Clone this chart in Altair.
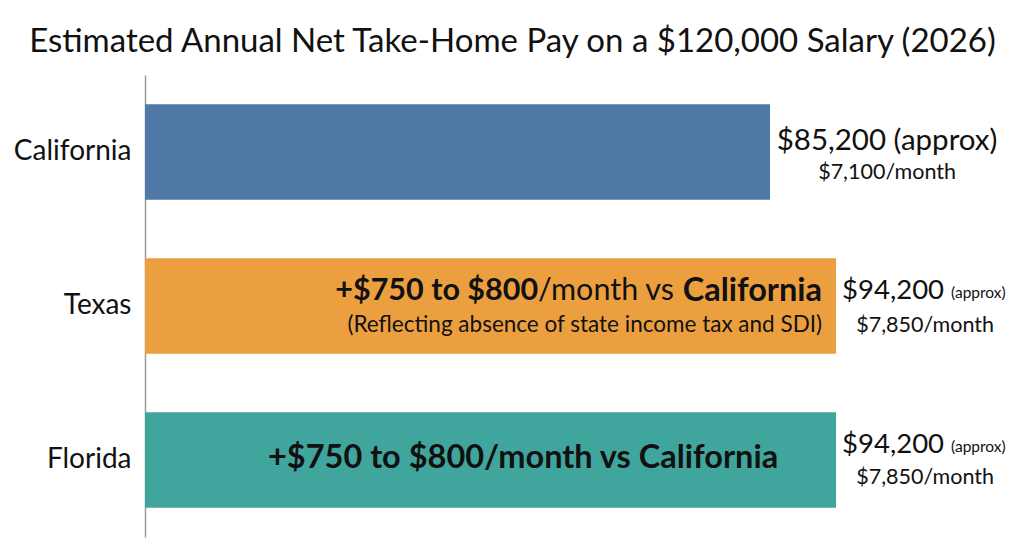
import altair as alt
import pandas as pd

states = ["California", "Texas", "Florida"]
annual = [85200, 94200, 94200]
monthly_labels = ["$7,100/month", "$7,850/month", "$7,850/month"]
annual_labels = ["$85,200 (approx)", "$94,200", "$94,200"]
approx_small = ["", "(approx)", "(approx)"]
colors = ["#5079A8", "#EC9F3F", "#40A69D"]

tx_part1 = "+$750 to $800"
tx_part2 = "/month vs"
tx_part3 = "California"
tx_note = "(Reflecting absence of state income tax and SDI)"
fl_text = "+$750 to $800/month vs California"
title = "Estimated Annual Net Take-Home Pay on a $120,000 Salary (2026)"

FONT = "Lato"
INK = "#111111"

df = pd.DataFrame({
    "state": states,
    "annual": annual,
    "monthly": monthly_labels,
    "label": annual_labels,
    "small": approx_small,
})

y = alt.Y("state:N", sort=states, title=None,
          scale=alt.Scale(paddingInner=0.38, paddingOuter=0.19),
          axis=alt.Axis(domainColor="#9a9a9a", domainWidth=1.5, ticks=False,
                        labelFontSize=28, labelFont=FONT, labelColor=INK,
                        labelPadding=14, grid=False))
x = alt.X("annual:Q", title=None, axis=None,
          scale=alt.Scale(domain=[0, 110000], nice=False, zero=True))

base = alt.Chart(df).encode(y=y, x=x)

bars = base.mark_bar(cornerRadius=0).encode(
    color=alt.Color("state:N", scale=alt.Scale(domain=states, range=colors), legend=None)
)

def sub(name):
    return alt.Chart(df[df.state == name]).encode(y=y, x=x)

ca_main = sub("California").mark_text(font=FONT, fontSize=29.5, align="center", baseline="middle",
                                       dx=117, dy=-11, color=INK).encode(text="label:N")
ca_month = sub("California").mark_text(font=FONT, fontSize=21.5, align="center", baseline="middle",
                                        dx=117, dy=21, color=INK).encode(text="monthly:N")

layers = [bars, ca_main, ca_month]
for name in ["Texas", "Florida"]:
    layers.append(sub(name).mark_text(font=FONT, fontSize=27.5, align="left", baseline="middle",
                                      dx=6, dy=-15, color=INK).encode(text="label:N"))
    layers.append(sub(name).mark_text(font=FONT, fontSize=15.5, align="left", baseline="middle",
                                      dx=115, dy=-13, color=INK).encode(text="small:N"))
    layers.append(sub(name).mark_text(font=FONT, fontSize=21.5, align="center", baseline="middle",
                                      dx=89, dy=(20 if name == "Texas" else 18), color=INK).encode(text="monthly:N"))

tx = sub("Texas")
layers.append(tx.mark_text(font=FONT, fontSize=30.5, fontWeight="bold", align="right", baseline="middle",
                           dx=-298, dy=-15, color=INK).encode(text=alt.value(tx_part1)))
layers.append(tx.mark_text(font=FONT, fontSize=30.5, align="left", baseline="middle",
                           dx=-298, dy=-15, color=INK).encode(text=alt.value(tx_part2)))
layers.append(tx.mark_text(font=FONT, fontSize=32.5, fontWeight="bold", align="right", baseline="middle",
                           dx=-14, dy=-15, color=INK).encode(text=alt.value(tx_part3)))
layers.append(tx.mark_text(font=FONT, fontSize=22.5, align="right", baseline="middle",
                           dx=-14, dy=19, color=INK).encode(text=alt.value(tx_note)))

fl = sub("Florida")
layers.append(fl.mark_text(font=FONT, fontSize=32.5, fontWeight="bold", align="center", baseline="middle",
                           dx=-313, dy=-2, color=INK).encode(text=alt.value(fl_text)))

chart = alt.layer(*layers).properties(
    width=807, height=462,
    padding={"left": 137, "top": 67, "right": 64, "bottom": 10},
    autosize=alt.AutoSizeParams(type="none"),
    title=alt.TitleParams(title, font=FONT, fontSize=33, fontWeight="normal", color=INK,
                          anchor="middle", dx=-36, offset=16),
).configure(background="white").configure_view(strokeWidth=0, stroke=None)

chart.save("out.html", embed_options={"renderer": "svg", "actions": False})
